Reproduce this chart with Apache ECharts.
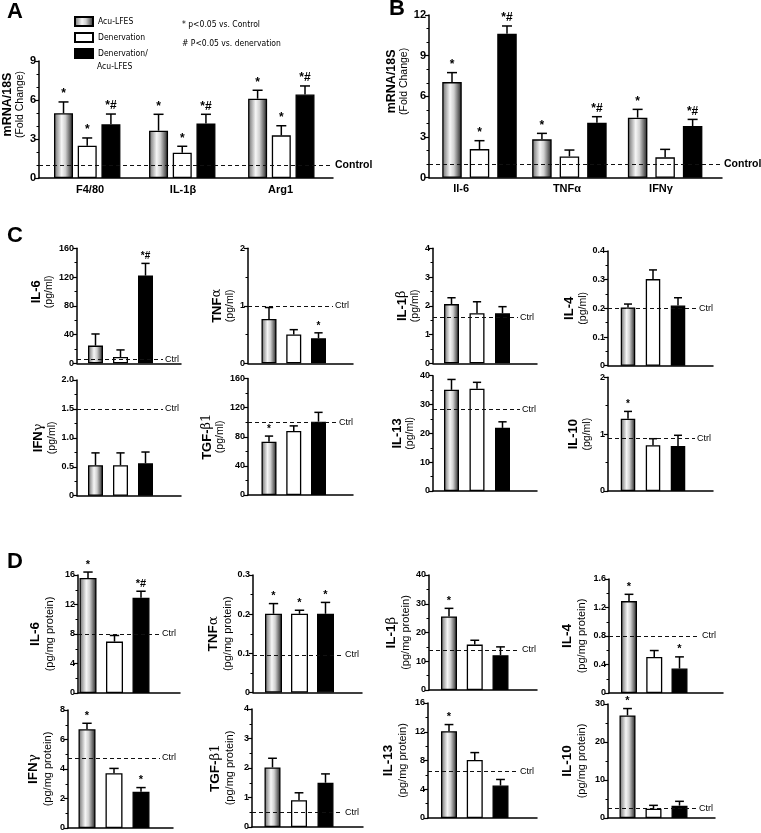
<!DOCTYPE html>
<html><head><meta charset="utf-8">
<script src="https://cdn.jsdelivr.net/npm/echarts@6/dist/echarts.min.js"></script>
<style>html,body{margin:0;padding:0;background:#fff}#c{width:761px;height:833px}</style>
</head><body><div id="c"></div><script>
// ---------- DATA ----------
const groups = ['Acu-LFES', 'Denervation', 'Denervation/Acu-LFES'];

// Panel A: mRNA/18S (fold change)
const aGenes = ['F4/80', 'IL-1β', 'Arg1'];
const aAcu = [4.98, 3.64, 6.10];
const aAcuHi = [5.85, 4.90, 6.75];
const aDen = [2.49, 1.95, 3.28];
const aDenHi = [3.08, 2.44, 4.02];
const aDenAcu = [4.13, 4.20, 6.42];
const aDenAcuHi = [4.92, 4.90, 7.08];
const aSigAcu = ['*', '*', '*'];
const aSigDen = ['*', '*', '*'];
const aSigDenAcu = ['*#', '*#', '*#'];
const aCtrl = 1;
const aYMax = 9, aYStep = 3;

// Panel B: mRNA/18S (fold change)
const bGenes = ['Il-6', 'TNFα', 'IFNγ'];
const bAcu = [7.05, 2.83, 4.43];
const bAcuHi = [7.75, 3.27, 5.04];
const bDen = [2.11, 1.57, 1.50];
const bDenHi = [2.73, 2.04, 2.09];
const bDenAcu = [10.62, 4.06, 3.81];
const bDenAcuHi = [11.19, 4.50, 4.30];
const bSigAcu = ['*', '*', '*'];
const bSigDen = ['*', '', ''];
const bSigDenAcu = ['*#', '*#', '*#'];
const bCtrl = 1;
const bYMax = 12, bYStep = 3;

// Panel C: serum cytokines (pg/ml)
const cTargets = ['IL-6', 'TNFα', 'IL-1β', 'IL-4', 'IFNγ', 'TGF-β1', 'IL-13', 'IL-10'];
const cAcu = [24.6, 0.77, 2.06, 0.203, 0.527, 73.3, 35.1, 1.27];
const cAcuHi = [40.8, 0.97, 2.28, 0.215, 0.74, 81.0, 38.7, 1.40];
const cDen = [8.8, 0.50, 1.74, 0.302, 0.527, 88.0, 35.5, 0.806];
const cDenHi = [18.6, 0.585, 2.14, 0.334, 0.74, 95.0, 37.7, 0.92];
const cDenAcu = [122, 0.435, 1.74, 0.21, 0.56, 100.8, 21.9, 0.79];
const cDenAcuHi = [139, 0.53, 1.97, 0.237, 0.755, 113.6, 24.0, 0.98];
const cCtrl = [5.6, 1.0, 1.59, 0.2, 1.5, 99.4, 28.3, 0.92];
const cSigAcu = ['', '', '', '', '', '*', '', '*'];
const cSigDen = ['', '', '', '', '', '', '', ''];
const cSigDenAcu = ['*#', '*', '', '', '', '', '', ''];
const cYMax = [160, 2, 4, 0.4, 2, 160, 40, 2];
const cYStep = [40, 1, 1, 0.1, 0.5, 40, 10, 1];

// Panel D: muscle cytokines (pg/mg protein)
const dTargets = ['IL-6', 'TNFα', 'IL-1β', 'IL-4', 'IFNγ', 'TGF-β1', 'IL-13', 'IL-10'];
const dAcu = [15.6, 0.201, 25.6, 1.29, 6.69, 2.02, 12.08, 27.0];
const dAcuHi = [16.4, 0.227, 28.4, 1.385, 7.1, 2.33, 13.0, 28.8];
const dDen = [6.97, 0.201, 15.8, 0.507, 3.72, 0.91, 8.07, 2.46];
const dDenHi = [7.8, 0.21, 17.3, 0.596, 4.04, 1.16, 9.1, 3.33];
const dDenAcu = [12.9, 0.201, 12.1, 0.343, 2.45, 1.5, 4.52, 3.25];
const dDenAcuHi = [13.8, 0.23, 15.0, 0.507, 2.74, 1.8, 5.36, 4.39];
const dCtrl = [8.0, 0.096, 13.95, 0.8, 4.76, 0.49, 6.48, 2.5];
const dSigAcu = ['*', '*', '*', '*', '*', '', '*', '*'];
const dSigDen = ['', '*', '', '', '', '', '', ''];
const dSigDenAcu = ['*#', '*', '', '*', '*', '', '', ''];
const dYMax = [16, 0.3, 40, 1.6, 8, 4, 16, 30];
const dYStep = [4, 0.1, 10, 0.4, 2, 1, 4, 10];

// ---------- LAYOUT / STYLE ----------
const FONT = "'Liberation Sans', Arial, sans-serif";
const NARROW = "'Liberation Sans Narrow', 'DejaVu Sans Condensed', 'Liberation Sans', sans-serif";
const GREEK = "'DejaVu Serif', 'Liberation Serif', serif";

const layA = {left: 39, top: 61, w: 294, h: 117, off: 24.5, sp: 23.7, bw: 19, gOff: [0, 4.01, 8.19],
  catPos: [2.12, 6.04, 10.16], lineEnd: 294, ctrlText: 'Control', ctrlFs: 10.5, ctrlBold: true,
  nameGap: 12, minor: 3, tickFs: 11, sigFs: 12, cap: 10, namePad: [0, 0, 0, 30]};
const layB = {left: 429, top: 15, w: 293, h: 162.7, off: 23, sp: 27.5, bw: 19.5, gOff: [0, 3.27, 6.75],
  catPos: [1.33, 5.18, 8.6], lineEnd: 293, ctrlText: 'Control', ctrlFs: 10.5, ctrlBold: true,
  nameGap: 14, minor: 3, tickFs: 11, sigFs: 12, cap: 10, namePad: [0, 0, 0, 30]};

const layC = [
  {left: 77, top: 248.3, w: 104, h: 115, off: 18.5, sp: 25, bw: 15, lineEnd: 86, nameGap: 12, namePad: [0, 0, 0, 28]},
  {left: 248, top: 248.3, w: 105, h: 115, off: 21, sp: 24.75, bw: 15, lineEnd: 85, nameGap: 6},
  {left: 433, top: 248.3, w: 104, h: 115, off: 18.5, sp: 25.5, bw: 15, lineEnd: 85, nameGap: 10},
  {left: 608, top: 251, w: 105, h: 114.7, off: 20, sp: 25, bw: 14.5, lineEnd: 89, nameGap: 14},
  {left: 77, top: 380, w: 104, h: 115.7, off: 18.5, sp: 25, bw: 15, lineEnd: 86, nameGap: 14},
  {left: 248, top: 378.6, w: 105, h: 116.4, off: 21, sp: 24.75, bw: 15, lineEnd: 89, nameGap: 13},
  {left: 433, top: 375.7, w: 104, h: 115.3, off: 18.5, sp: 25.5, bw: 15, lineEnd: 87, nameGap: 10},
  {left: 608, top: 377.3, w: 105, h: 113.7, off: 20, sp: 25, bw: 14.5, lineEnd: 87, nameGap: 15}
];
const layD = [
  {left: 78, top: 575, w: 102, h: 118, off: 10, sp: 26.5, bw: 17, lineEnd: 82, nameGap: 22},
  {left: 253, top: 575, w: 109, h: 117.5, off: 20.5, sp: 26, bw: 17, lineEnd: 90, nameGap: 17},
  {left: 429, top: 575, w: 108, h: 115, off: 20, sp: 25.75, bw: 16, lineEnd: 91, nameGap: 17},
  {left: 609, top: 579, w: 114, h: 114, off: 20, sp: 25.25, bw: 16, lineEnd: 91, nameGap: 21},
  {left: 68, top: 710, w: 105, h: 118, off: 19, sp: 27, bw: 17, lineEnd: 92, nameGap: 14},
  {left: 252, top: 709, w: 111, h: 118, off: 20.5, sp: 26.5, bw: 16, lineEnd: 91, nameGap: 16},
  {left: 428, top: 703, w: 109, h: 115, off: 21, sp: 25.75, bw: 16, lineEnd: 90, nameGap: 19},
  {left: 608, top: 704, w: 107, h: 114, off: 19.5, sp: 26, bw: 16, lineEnd: 89, nameGap: 20}
];

const grayGrad = new echarts.graphic.LinearGradient(0, 0, 1, 0, [
  {offset: 0, color: '#6a6a6a'}, {offset: 0.4, color: '#f6f6f6'},
  {offset: 0.6, color: '#d0d0d0'}, {offset: 1, color: '#1e1e1e'}]);
const fills = [grayGrad, '#ffffff', '#000000'];

const grids = [], xAxes = [], yAxes = [], series = [];

function nameRich(t, unit) {
  const m = t.match(/^(.*?)([α-ω].*)?$/);
  return (m[2] ? `{n|${m[1]}}{g|${m[2]}}` : `{n|${m[1]}}`) + `\n{u|${unit}}`;
}

function addPanel(L, cfg) {
  const gi = grids.length;
  const xmin = 1 - L.off / L.sp;
  const xmax = xmin + L.w / L.sp;
  const gOff = L.gOff || [0];
  grids.push({left: L.left, top: L.top, width: L.w, height: L.h});
  xAxes.push({
    gridIndex: gi, type: 'value', min: xmin, max: xmax,
    axisLine: {show: true, onZero: false, lineStyle: {color: '#000', width: 1.5}},
    axisTick: {show: false}, splitLine: {show: false},
    axisLabel: cfg.cats ? {show: true, customValues: L.catPos,
      formatter: v => cfg.cats[L.catPos.findIndex(p => Math.abs(p - v) < 1e-6)] || '',
      fontSize: 11, fontWeight: 'bold', color: '#000', fontFamily: FONT, margin: 6} : {show: false}
  });
  yAxes.push({
    gridIndex: gi, type: 'value', min: 0, max: cfg.ymax, interval: cfg.ystep,
    axisLine: {show: true, onZero: false, lineStyle: {color: '#000', width: 1.5}},
    axisTick: {show: true, length: 4, lineStyle: {color: '#000', width: 1.2}},
    minorTick: {show: true, splitNumber: L.minor || 2, length: 2.5, lineStyle: {color: '#000', width: 1}},
    splitLine: {show: false}, minorSplitLine: {show: false},
    axisLabel: {fontSize: L.tickFs || 9, fontWeight: 'bold', color: '#000', fontFamily: FONT, margin: 3,
      formatter: cfg.fmt},
    name: cfg.name, nameLocation: 'middle', nameRotate: 90, nameGap: L.nameGap,
    nameTextStyle: {color: '#000', padding: L.namePad || 0, rich: cfg.rich}
  });
  const errData = [], errSig = [];
  for (let g = 0; g < 3; g++) {
    series.push({
      type: 'bar', name: groups[g], xAxisIndex: gi, yAxisIndex: gi, barWidth: L.bw, barGap: '-100%',
      z: 3, silent: true, animation: false,
      itemStyle: {color: fills[g], borderColor: '#000', borderWidth: 1.3},
      data: cfg.means[g].map((v, i) => [1 + gOff[i] + g, v])
    });
    cfg.means[g].forEach((v, i) => {
      errData.push([1 + gOff[i] + g, v, cfg.his[g][i]]);
      errSig.push(cfg.sigs[g][i]);
    });
  }
  const capHalf = (L.cap || L.bw * 0.55) / 2;
  const sigFs = L.sigFs || cfg.sigFs;
  series.push({
    type: 'custom', xAxisIndex: gi, yAxisIndex: gi, z: 4, silent: true, animation: false,
    data: errData,
    renderItem: (params, api) => {
      const x = api.value(0);
      const pb = api.coord([x, api.value(1)]);
      const pt = api.coord([x, api.value(2)]);
      const ch = [
        {type: 'line', shape: {x1: pb[0], y1: pb[1], x2: pt[0], y2: pt[1]}, style: {stroke: '#000', lineWidth: 1.5}},
        {type: 'line', shape: {x1: pt[0] - capHalf, y1: pt[1], x2: pt[0] + capHalf, y2: pt[1]}, style: {stroke: '#000', lineWidth: 1.5}}
      ];
      const s = errSig[params.dataIndex];
      if (s) ch.push({type: 'text', x: pt[0], y: pt[1] - 2,
        style: {text: s, textAlign: 'center', textVerticalAlign: 'bottom', fill: '#000',
          font: `bold ${sigFs}px ${FONT}`}});
      return {type: 'group', children: ch};
    }
  });
  series.push({
    type: 'line', xAxisIndex: gi, yAxisIndex: gi, data: [], z: 1, silent: true, animation: false,
    markLine: {
      silent: true, symbol: ['none', 'none'], animation: false,
      lineStyle: {type: [4, 3], color: '#111', width: 1},
      label: {show: true, position: 'end', formatter: L.ctrlText || 'Ctrl', color: '#000',
        fontSize: L.ctrlFs || 9, fontWeight: L.ctrlBold ? 'bold' : 'normal', fontFamily: FONT, distance: 2},
      emphasis: {disabled: true},
      data: [[{coord: [xmin, cfg.ctrl]}, {coord: [xmin + L.lineEnd / L.sp, cfg.ctrl]}]]
    }
  });
}

const richAB = {
  n: {fontSize: 12.5, fontWeight: 'bold', fontFamily: FONT, color: '#000', lineHeight: 14},
  u: {fontSize: 10.5, fontFamily: FONT, color: '#000', lineHeight: 12}
};
const richC = {
  n: {fontSize: 13, fontWeight: 'bold', fontFamily: FONT, color: '#000', lineHeight: 15},
  g: {fontSize: 13, fontFamily: GREEK, color: '#000', lineHeight: 15},
  u: {fontSize: 10.5, fontFamily: FONT, color: '#000', lineHeight: 12}
};
const richD = {
  n: {fontSize: 13.5, fontWeight: 'bold', fontFamily: FONT, color: '#000', lineHeight: 16},
  g: {fontSize: 13.5, fontFamily: GREEK, color: '#000', lineHeight: 16},
  u: {fontSize: 11, fontFamily: FONT, color: '#000', lineHeight: 13}
};

addPanel(layA, {
  cats: aGenes, means: [aAcu, aDen, aDenAcu], his: [aAcuHi, aDenHi, aDenAcuHi],
  sigs: [aSigAcu, aSigDen, aSigDenAcu], ctrl: aCtrl, ymax: aYMax, ystep: aYStep,
  name: '{n|mRNA/18S}\n{u|(Fold Change)}', rich: richAB
});
addPanel(layB, {
  cats: bGenes, means: [bAcu, bDen, bDenAcu], his: [bAcuHi, bDenHi, bDenAcuHi],
  sigs: [bSigAcu, bSigDen, bSigDenAcu], ctrl: bCtrl, ymax: bYMax, ystep: bYStep,
  name: '{n|mRNA/18S}\n{u|(Fold Change)}', rich: richAB
});
cTargets.forEach((t, k) => {
  addPanel(layC[k], {
    means: [[cAcu[k]], [cDen[k]], [cDenAcu[k]]], his: [[cAcuHi[k]], [cDenHi[k]], [cDenAcuHi[k]]],
    sigs: [[cSigAcu[k]], [cSigDen[k]], [cSigDenAcu[k]]], ctrl: cCtrl[k], ymax: cYMax[k], ystep: cYStep[k],
    name: nameRich(t, '(pg/ml)'), rich: richC, sigFs: 10,
    fmt: cYStep[k] === 0.5 ? (v => v === 0 ? '0' : v.toFixed(1)) : undefined
  });
});
dTargets.forEach((t, k) => {
  addPanel(layD[k], {
    means: [[dAcu[k]], [dDen[k]], [dDenAcu[k]]], his: [[dAcuHi[k]], [dDenHi[k]], [dDenAcuHi[k]]],
    sigs: [[dSigAcu[k]], [dSigDen[k]], [dSigDenAcu[k]]], ctrl: dCtrl[k], ymax: dYMax[k], ystep: dYStep[k],
    name: nameRich(t, '(pg/mg protein)'), rich: richD, sigFs: 11
  });
});

const titleBase = {padding: 0, textStyle: {fontSize: 22, fontWeight: 'bold', color: '#000', fontFamily: FONT}};
const smallText = {fontSize: 8.5, fontWeight: 'normal', color: '#000', fontFamily: NARROW};
const chart = echarts.init(document.getElementById('c'), null, {renderer: 'canvas'});
chart.setOption({
  animation: false,
  backgroundColor: '#fff',
  title: [
    Object.assign({text: 'A', left: 7, top: 1}, titleBase),
    Object.assign({text: 'B', left: 389, top: -2}, titleBase),
    Object.assign({text: 'C', left: 7, top: 225}, titleBase),
    Object.assign({text: 'D', left: 7, top: 551}, titleBase),
    {text: 'Acu-LFES', left: 97, top: 62, padding: 0, textStyle: smallText},
    {text: '* p<0.05 vs. Control', left: 182, top: 20, padding: 0, textStyle: smallText},
    {text: '# P<0.05 vs. denervation', left: 182, top: 39, padding: 0, textStyle: smallText}
  ],
  legend: {
    data: groups, orient: 'vertical', left: 74, top: 16, itemWidth: 18, itemHeight: 9, itemGap: 5,
    selectedMode: false, icon: 'rect', padding: 0,
    formatter: n => n === groups[2] ? 'Denervation/' : n,
    textStyle: {fontSize: 8.5, fontFamily: NARROW, color: '#000', lineHeight: 9, height: 9}
  },
  grid: grids, xAxis: xAxes, yAxis: yAxes, series: series
});
</script></body></html>
